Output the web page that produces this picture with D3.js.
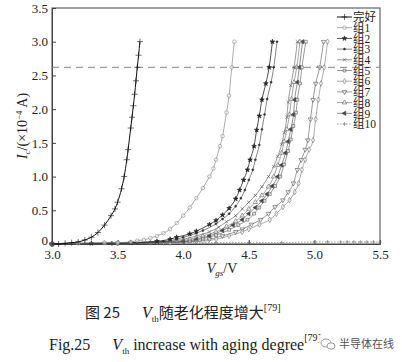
<!DOCTYPE html>
<html>
<head>
<meta charset="utf-8">
<script src="https://cdnjs.cloudflare.com/ajax/libs/d3/7.8.5/d3.min.js"></script>
<style>
  body { margin: 0; background: #fff; }
  svg { display: block; }
</style>
</head>
<body>
<div id="chart"></div>
<script>
// legend names, in order
const names = ["完好", "组1", "组2", "组3", "组4", "组5", "组6", "组7", "组8", "组9", "组10"];

// [Vgs, Ic] pairs (Ic in 1e-4 A)
const good = [[3.0,0],[3.05,0],[3.1,0.01],[3.15,0.02],[3.2,0.03],[3.25,0.06],[3.3,0.1],[3.35,0.17],[3.4,0.28],[3.45,0.42],[3.48,0.52],[3.5,0.62],[3.53,0.82],[3.55,1.0],[3.57,1.25],[3.58,1.4],[3.6,1.72],[3.61,1.88],[3.62,2.05],[3.63,2.22],[3.64,2.42],[3.65,2.62],[3.66,2.8],[3.67,3.0]];
const g1 = [[3.0,0],[3.2,0.01],[3.4,0.02],[3.5,0.02],[3.6,0.03],[3.65,0.05],[3.7,0.06],[3.75,0.09],[3.8,0.12],[3.85,0.16],[3.9,0.22],[3.95,0.31],[4.0,0.42],[4.05,0.54],[4.1,0.68],[4.15,0.83],[4.2,1.0],[4.23,1.12],[4.25,1.25],[4.28,1.45],[4.3,1.6],[4.33,1.95],[4.35,2.2],[4.37,2.62],[4.39,3.0]];
const g2 = [[3.0,0],[3.3,0.01],[3.6,0.02],[3.8,0.04],[3.9,0.07],[3.95,0.1],[4.05,0.15],[4.1,0.19],[4.2,0.29],[4.25,0.35],[4.3,0.43],[4.35,0.53],[4.4,0.67],[4.43,0.8],[4.46,0.95],[4.49,1.1],[4.51,1.25],[4.54,1.45],[4.56,1.69],[4.58,1.9],[4.6,2.14],[4.63,2.38],[4.655,2.62],[4.68,3.0]];
const g3 = [[3.0,0],[3.4,0.01],[3.65,0.02],[3.85,0.04],[3.95,0.07],[4.0,0.1],[4.1,0.16],[4.15,0.2],[4.25,0.3],[4.3,0.37],[4.35,0.45],[4.4,0.56],[4.44,0.68],[4.47,0.8],[4.5,0.95],[4.53,1.1],[4.55,1.25],[4.58,1.47],[4.6,1.7],[4.62,1.92],[4.64,2.15],[4.67,2.4],[4.69,2.62],[4.715,3.0]];
const g4 = [[3.0,0],[3.4,0.01],[3.7,0.02],[3.9,0.04],[4.0,0.07],[4.1,0.12],[4.2,0.18],[4.27,0.25],[4.33,0.33],[4.4,0.42],[4.45,0.52],[4.5,0.62],[4.55,0.72],[4.6,0.85],[4.65,1.0],[4.69,1.15],[4.72,1.3],[4.75,1.48],[4.77,1.65],[4.79,1.88],[4.8,2.1],[4.82,2.35],[4.845,2.62],[4.87,3.0]];
const g5 = [[3.0,0],[3.5,0.01],[3.8,0.02],[4.05,0.04],[4.15,0.08],[4.25,0.13],[4.35,0.21],[4.42,0.28],[4.49,0.36],[4.54,0.45],[4.58,0.54],[4.62,0.64],[4.66,0.74],[4.7,0.86],[4.74,1.0],[4.77,1.18],[4.8,1.38],[4.82,1.55],[4.84,1.75],[4.86,1.95],[4.87,2.14],[4.89,2.38],[4.905,2.62],[4.935,3.0]];
const g6 = [[3.0,0],[3.5,0.01],[3.9,0.02],[4.15,0.04],[4.25,0.07],[4.35,0.12],[4.45,0.18],[4.5,0.22],[4.58,0.29],[4.66,0.36],[4.71,0.45],[4.76,0.55],[4.81,0.65],[4.85,0.77],[4.88,0.9],[4.905,1.1],[4.93,1.25],[4.96,1.4],[4.99,1.54],[5.01,1.85],[5.03,2.14],[5.05,2.38],[5.075,2.62],[5.1,3.0]];
const g7 = [[3.0,0],[3.5,0.01],[3.85,0.02],[4.1,0.04],[4.2,0.07],[4.3,0.12],[4.4,0.18],[4.45,0.22],[4.52,0.29],[4.59,0.36],[4.65,0.45],[4.7,0.55],[4.76,0.65],[4.8,0.77],[4.84,0.9],[4.87,1.1],[4.9,1.25],[4.93,1.4],[4.95,1.54],[4.97,1.85],[4.99,2.14],[5.01,2.38],[5.04,2.62],[5.07,3.0]];
const g8 = [[3.0,0],[3.4,0.01],[3.75,0.02],[3.95,0.04],[4.05,0.07],[4.15,0.12],[4.25,0.18],[4.33,0.26],[4.4,0.34],[4.45,0.42],[4.5,0.52],[4.55,0.62],[4.6,0.72],[4.65,0.85],[4.69,1.0],[4.72,1.17],[4.75,1.35],[4.77,1.52],[4.79,1.7],[4.81,1.92],[4.825,2.15],[4.845,2.4],[4.865,2.62],[4.89,3.0]];
const g9 = [[3.0,0],[3.45,0.01],[3.8,0.02],[4.0,0.04],[4.1,0.07],[4.2,0.12],[4.3,0.2],[4.38,0.28],[4.45,0.36],[4.5,0.45],[4.55,0.54],[4.6,0.64],[4.64,0.74],[4.68,0.86],[4.72,1.0],[4.75,1.17],[4.78,1.35],[4.8,1.52],[4.82,1.7],[4.84,1.92],[4.85,2.14],[4.87,2.4],[4.885,2.62],[4.91,3.0]];
const g10 = [[3.0,0.01],[3.25,0.01],[3.5,0.01],[3.75,0.01],[4.0,0.02],[4.25,0.02],[4.5,0.02],[4.75,0.02],[5.0,0.03],[5.1,0.03],[5.2,0.03],[5.25,0.03],[5.3,0.03],[5.35,0.03],[5.4,0.03],[5.45,0.03],[5.5,0.03]];

const xTicks = [3.0, 3.5, 4.0, 4.5, 5.0, 5.5];
const yTicks = [0, 0.5, 1.0, 1.5, 2.0, 2.5, 3.0, 3.5];
const refLevel = 2.62;

const W = 402, H = 362;
const m = { left: 52, top: 8, right: 22, bottom: 118 };
const pw = W - m.left - m.right;
const ph = H - m.top - m.bottom;

const svg = d3.select("#chart").append("svg")
  .attr("width", W).attr("height", H);

const x = d3.scaleLinear().domain([3.0, 5.5]).range([m.left, m.left + pw]);
const y = d3.scaleLinear().domain([0, 3.5]).range([m.top + ph, m.top]);

// symbol per series (d3 v7 stroke symbols, with fallbacks)
const symTimes = d3.symbolTimes || d3.symbolX || d3.symbolCross;
const symPlus = d3.symbolPlus || d3.symbolCross;
const series = [
  { data: good, sym: symPlus,           fill: false, size: 14, color: "#111", w: 1.0 },
  { data: g1,   sym: d3.symbolCircle,   fill: false, size: 10, color: "#888", w: 0.7 },
  { data: g2,   sym: d3.symbolStar,     fill: true,  size: 7,  color: "#222", w: 0.8 },
  { data: g3,   sym: d3.symbolCircle,   fill: true,  size: 3,  color: "#333", w: 0.6 },
  { data: g4,   sym: symTimes,          fill: false, size: 8,  color: "#555", w: 0.6 },
  { data: g5,   sym: d3.symbolSquare,   fill: false, size: 8,  color: "#555", w: 0.6 },
  { data: g6,   sym: d3.symbolDiamond,  fill: false, size: 9,  color: "#777", w: 0.6 },
  { data: g7,   sym: d3.symbolTriangle, fill: false, size: 9,  color: "#555", w: 0.6, rot: 180 },
  { data: g8,   sym: d3.symbolTriangle, fill: false, size: 9,  color: "#666", w: 0.6 },
  { data: g9,   sym: d3.symbolTriangle, fill: true,  size: 8,  color: "#444", w: 0.6, rot: -90 },
  { data: g10,  sym: symPlus,           fill: false, size: 6,  color: "#777", w: 0.7, dash: "1.5,1.5" }
];

// frame
svg.append("rect")
  .attr("x", m.left).attr("y", m.top)
  .attr("width", pw).attr("height", ph)
  .attr("fill", "none").attr("stroke", "#444").attr("stroke-width", 1);

// axes, ticks inward
const xAxis = d3.axisBottom(x).tickValues(xTicks).tickSize(-4).tickPadding(6)
  .tickFormat(d3.format(".1f"));
const yAxis = d3.axisLeft(y).tickValues(yTicks).tickSize(-4).tickPadding(4)
  .tickFormat(d => d === 0 ? "0" : d3.format(".1f")(d));

svg.append("g").attr("transform", "translate(0," + (m.top + ph) + ")").call(xAxis);
const gy = svg.append("g").attr("transform", "translate(" + m.left + ",0)").call(yAxis);
svg.selectAll(".domain").attr("stroke", "#444");
svg.selectAll(".tick line").attr("stroke", "#444");
svg.selectAll(".tick text")
  .attr("fill", "#222")
  .style("font-family", "'Liberation Serif', 'DejaVu Serif', serif")
  .style("font-size", "13px");
// lift the "0" label a little so it clears the 3.0 label below
gy.selectAll(".tick text").filter(d => d === 0).attr("dy", "0.05em");

// dashed reference level
svg.append("line")
  .attr("x1", x(3.0)).attr("x2", x(5.5))
  .attr("y1", y(refLevel)).attr("y2", y(refLevel))
  .attr("stroke", "#777").attr("stroke-width", 0.9)
  .attr("stroke-dasharray", "7,5");

const line = d3.line()
  .x(d => x(d[0])).y(d => y(d[1]))
  .curve(d3.curveMonotoneX);

function drawMarker(sel, s, px, py) {
  sel.append("path")
    .attr("d", d3.symbol().type(s.sym).size(s.size)())
    .attr("transform", "translate(" + px + "," + py + ")" + (s.rot ? " rotate(" + s.rot + ")" : ""))
    .attr("fill", s.fill ? s.color : "#fff")
    .attr("fill-opacity", s.fill ? 1 : 0.5)
    .attr("stroke", s.color)
    .attr("stroke-width", 0.6);
}

// draw from last to first so the pristine curve sits on top
series.slice().reverse().forEach(s => {
  const g = svg.append("g");
  g.append("path")
    .datum(s.data)
    .attr("d", line)
    .attr("fill", "none")
    .attr("stroke", s.color)
    .attr("stroke-width", s.w)
    .attr("stroke-dasharray", s.dash || null);
  s.data.forEach(d => drawMarker(g, s, x(d[0]), y(d[1])));
});

// legend
const lg = svg.append("g");
names.forEach((n, i) => {
  const s = series[i];
  const ly = 17 + i * 10.7;
  lg.append("line")
    .attr("x1", 337).attr("x2", 352)
    .attr("y1", ly).attr("y2", ly)
    .attr("stroke", s.color).attr("stroke-width", s.w)
    .attr("stroke-dasharray", s.dash || null);
  drawMarker(lg, s, 344.5, ly);
  lg.append("text")
    .attr("x", 353).attr("y", ly + 4.2)
    .style("font-family", "'Liberation Serif', 'Noto Sans CJK SC', serif")
    .style("font-size", "11.5px")
    .attr("fill", "#222")
    .text(n);
});

// axis titles
const yl = svg.append("text")
  .attr("transform", "translate(27," + (m.top + ph / 2) + ") rotate(-90)")
  .attr("text-anchor", "middle")
  .style("font-family", "'Liberation Serif', serif")
  .style("font-size", "14px")
  .attr("fill", "#222");
yl.append("tspan").style("font-style", "italic").text("I");
yl.append("tspan").attr("dy", 3).style("font-size", "9px").style("font-style", "italic").text("c");
yl.append("tspan").attr("dy", -3).text("/(×10");
yl.append("tspan").attr("dy", -5).style("font-size", "9px").text("−4");
yl.append("tspan").attr("dy", 5).text(" A)");

const xl = svg.append("text")
  .attr("x", 222).attr("y", 273)
  .attr("text-anchor", "middle")
  .style("font-family", "'Liberation Serif', serif")
  .style("font-size", "14px")
  .attr("fill", "#222");
xl.append("tspan").style("font-style", "italic").text("V");
xl.append("tspan").attr("dy", 3).style("font-size", "9px").style("font-style", "italic").text("gs");
xl.append("tspan").attr("dy", -3).text("/V");

// captions
const c1 = svg.append("text")
  .attr("x", 85).attr("y", 318)
  .style("font-family", "'Noto Sans CJK SC', sans-serif")
  .style("font-size", "15px")
  .attr("fill", "#222");
c1.append("tspan").text("图 25");
c1.append("tspan").attr("dx", 22).style("font-family", "'Liberation Serif', serif")
  .style("font-style", "italic").style("font-size", "16px").text("V");
c1.append("tspan").attr("dy", 4).style("font-family", "'Liberation Serif', serif")
  .style("font-size", "9px").text("th");
c1.append("tspan").attr("dy", -4).text("随老化程度增大");
c1.append("tspan").attr("dy", -7).style("font-family", "'Liberation Serif', serif")
  .style("font-size", "10px").text("[79]");

const c2 = svg.append("text")
  .attr("x", 49).attr("y", 350)
  .style("font-family", "'Liberation Serif', serif")
  .style("font-size", "16px")
  .attr("fill", "#222");
c2.append("tspan").text("Fig.25");
c2.append("tspan").attr("dx", 22).style("font-style", "italic").text("V");
c2.append("tspan").attr("dy", 4).style("font-size", "9px").text("th");
c2.append("tspan").attr("dy", -4).attr("dx", 4).text("increase with aging degree");
c2.append("tspan").attr("dy", -9).style("font-size", "10px").text("[79]");

// watermark
const wm = svg.append("g").attr("transform", "translate(327,344)");
wm.append("rect").attr("x", -8).attr("y", -9).attr("width", 78).attr("height", 16)
  .attr("fill", "#fff").attr("fill-opacity", 0.85);
wm.append("ellipse").attr("cx", -1).attr("cy", -1).attr("rx", 5).attr("ry", 4)
  .attr("fill", "none").attr("stroke", "#999").attr("stroke-width", 1);
wm.append("ellipse").attr("cx", 4).attr("cy", 2).attr("rx", 4).attr("ry", 3.2)
  .attr("fill", "#fff").attr("stroke", "#999").attr("stroke-width", 1);
wm.append("text").attr("x", 12).attr("y", 4)
  .style("font-family", "'Noto Sans CJK SC', sans-serif")
  .style("font-size", "11px")
  .attr("fill", "#555")
  .text("半导体在线");
</script>
</body>
</html>
